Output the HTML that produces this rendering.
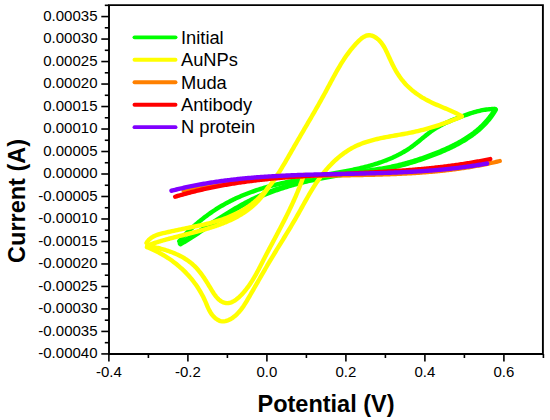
<!DOCTYPE html>
<html><head><meta charset="utf-8"><style>
html,body{margin:0;padding:0;background:#fff;width:550px;height:420px;overflow:hidden}
svg{display:block}
text{font-family:"Liberation Sans",sans-serif}
</style></head><body>
<svg width="550" height="420" viewBox="0 0 550 420"><rect width="550" height="420" fill="#fff"/><g><path d="M179.28 241.25L180.16 240.22L181.05 239.19L181.96 238.17L182.87 237.15L183.80 236.14L184.74 235.14L185.69 234.14L186.65 233.15L187.62 232.16L188.61 231.18L189.60 230.21L190.61 229.24L191.62 228.29L192.65 227.33L193.68 226.39L194.73 225.45L195.78 224.52L196.84 223.60L197.92 222.68L199.00 221.77L200.09 220.87L201.19 219.98L202.29 219.10L203.41 218.22L204.53 217.36L205.66 216.50L206.80 215.65L207.95 214.81L209.10 213.99L210.26 213.16L211.43 212.35L212.60 211.55L213.78 210.76L214.97 209.98L216.16 209.21L217.36 208.45L218.57 207.70L219.78 206.96L220.99 206.23L222.21 205.51L223.44 204.80L224.67 204.11L225.90 203.42L227.14 202.75L228.38 202.09L229.63 201.44L230.88 200.80L232.14 200.17L233.40 199.56L234.66 198.95L235.92 198.36L237.19 197.77L238.47 197.20L239.74 196.64L241.03 196.09L242.31 195.55L243.60 195.02L244.89 194.49L246.18 193.98L247.48 193.48L248.78 192.98L250.08 192.50L251.39 192.02L252.70 191.56L254.01 191.10L255.33 190.65L256.64 190.21L257.96 189.77L259.29 189.35L260.61 188.93L261.94 188.52L263.27 188.12L264.61 187.72L265.95 187.33L267.28 186.95L268.63 186.58L269.97 186.21L271.31 185.85L272.66 185.49L274.01 185.14L275.36 184.80L276.72 184.46L278.07 184.13L279.43 183.80L280.79 183.48L282.15 183.16L283.52 182.85L284.88 182.54L286.25 182.24L287.62 181.94L288.99 181.65L290.36 181.36L291.73 181.07L293.10 180.79L294.48 180.51L295.86 180.23L297.23 179.96L298.61 179.69L299.99 179.43L301.37 179.16L302.75 178.90L304.14 178.64L305.52 178.39L306.90 178.13L308.29 177.88L309.68 177.63L311.06 177.38L312.45 177.13L313.84 176.89L315.22 176.64L316.61 176.40L318.00 176.15L319.39 175.91L320.78 175.67L322.17 175.42L323.56 175.18L324.95 174.94L326.34 174.69L327.73 174.45L329.12 174.21L330.51 173.96L331.90 173.72L333.29 173.47L334.68 173.22L336.06 172.97L337.45 172.72L338.84 172.47L340.23 172.21L341.61 171.95L343.00 171.69L344.38 171.43L345.77 171.17L347.15 170.90L348.53 170.62L349.91 170.35L351.29 170.07L352.67 169.78L354.04 169.49L355.42 169.20L356.79 168.90L358.16 168.59L359.52 168.28L360.89 167.96L362.25 167.63L363.61 167.30L364.96 166.96L366.32 166.62L367.67 166.26L369.01 165.90L370.35 165.53L371.69 165.15L373.03 164.76L374.36 164.36L375.69 163.96L377.01 163.54L378.33 163.11L379.64 162.67L380.95 162.22L382.26 161.76L383.56 161.29L384.86 160.81L386.15 160.32L387.43 159.81L388.71 159.29L389.98 158.76L391.25 158.21L392.52 157.65L393.77 157.08L395.02 156.50L396.27 155.89L397.51 155.28L398.74 154.65L399.96 154.00L401.18 153.34L402.39 152.66L403.60 151.97L404.79 151.26L405.98 150.54L407.16 149.79L408.34 149.03L409.51 148.26L410.66 147.46L411.82 146.65L412.96 145.81L414.09 144.96L415.22 144.09L416.34 143.21L417.46 142.32L418.57 141.42L419.68 140.51L420.79 139.60L421.90 138.68L423.01 137.77L424.11 136.86L425.23 135.95L426.34 135.05L427.46 134.16L428.59 133.29L429.73 132.43L430.87 131.58L432.02 130.76L433.18 129.95L434.35 129.18L435.54 128.42L436.73 127.69L437.94 126.98L439.16 126.29L440.38 125.62L441.62 124.97L442.86 124.34L444.11 123.73L445.37 123.13L446.64 122.54L447.91 121.97L449.19 121.41L450.48 120.86L451.77 120.32L453.07 119.79L454.37 119.27L455.68 118.76L456.99 118.25L458.30 117.74L459.62 117.24L460.94 116.75L462.26 116.25L463.59 115.76L464.91 115.28L466.24 114.81L467.58 114.34L468.91 113.89L470.25 113.44L471.59 113.01L472.93 112.60L474.28 112.19L475.62 111.81L476.97 111.45L478.33 111.10L479.68 110.78L481.04 110.47L482.40 110.19L483.76 109.94L485.13 109.71L486.50 109.51L487.87 109.34L489.24 109.20L490.62 109.09L492.00 109.02L493.38 108.98L494.76 108.97" fill="none" stroke="#00ff00" stroke-width="4.40" stroke-linecap="round" stroke-linejoin="round"/><path d="M495.28 109.67L494.55 110.90L493.80 112.11L493.03 113.30L492.24 114.47L491.42 115.62L490.60 116.75L489.75 117.86L488.88 118.95L488.00 120.03L487.09 121.09L486.17 122.13L485.24 123.15L484.29 124.15L483.32 125.14L482.33 126.11L481.33 127.07L480.32 128.01L479.29 128.93L478.24 129.84L477.18 130.73L476.11 131.61L475.02 132.47L473.93 133.32L472.81 134.15L471.69 134.97L470.56 135.78L469.41 136.57L468.25 137.35L467.08 138.11L465.90 138.87L464.71 139.61L463.51 140.33L462.31 141.05L461.09 141.75L459.86 142.45L458.63 143.13L457.39 143.80L456.14 144.46L454.88 145.11L453.61 145.75L452.34 146.38L451.07 147.00L449.78 147.61L448.50 148.21L447.20 148.80L445.91 149.39L444.60 149.96L443.30 150.53L441.99 151.09L440.67 151.64L439.36 152.19L438.04 152.72L436.72 153.25L435.40 153.78L434.07 154.30L432.75 154.81L431.42 155.31L430.09 155.81L428.76 156.31L427.44 156.80L426.10 157.28L424.77 157.75L423.44 158.22L422.11 158.68L420.77 159.14L419.44 159.58L418.10 160.03L416.76 160.46L415.42 160.89L414.08 161.31L412.74 161.72L411.39 162.13L410.05 162.53L408.70 162.92L407.35 163.30L406.00 163.68L404.65 164.04L403.30 164.40L401.95 164.76L400.59 165.10L399.24 165.44L397.88 165.77L396.52 166.09L395.16 166.40L393.80 166.70L392.43 166.99L391.07 167.28L389.70 167.56L388.33 167.83L386.96 168.09L385.59 168.34L384.21 168.58L382.83 168.81L381.46 169.04L380.08 169.26L378.70 169.47L377.32 169.68L375.93 169.88L374.55 170.08L373.16 170.27L371.78 170.46L370.39 170.64L369.00 170.82L367.61 171.00L366.22 171.18L364.83 171.35L363.44 171.53L362.05 171.70L360.65 171.87L359.26 172.05L357.87 172.22L356.47 172.40L355.08 172.57L353.68 172.76L352.29 172.94L350.89 173.13L349.50 173.31L348.10 173.51L346.71 173.70L345.31 173.90L343.92 174.10L342.52 174.31L341.13 174.51L339.73 174.73L338.34 174.94L336.95 175.16L335.56 175.38L334.16 175.61L332.77 175.84L331.38 176.07L329.99 176.31L328.60 176.56L327.21 176.80L325.82 177.05L324.44 177.31L323.05 177.57L321.67 177.83L320.28 178.10L318.90 178.37L317.52 178.65L316.14 178.94L314.76 179.22L313.38 179.52L312.00 179.81L310.63 180.12L309.25 180.43L307.88 180.74L306.51 181.06L305.14 181.38L303.77 181.71L302.41 182.05L301.04 182.39L299.68 182.74L298.32 183.09L296.96 183.45L295.60 183.82L294.25 184.19L292.90 184.57L291.55 184.95L290.20 185.34L288.85 185.74L287.51 186.14L286.17 186.55L284.83 186.97L283.50 187.39L282.16 187.82L280.83 188.26L279.50 188.70L278.18 189.16L276.85 189.61L275.53 190.08L274.22 190.55L272.90 191.03L271.59 191.52L270.28 192.02L268.98 192.52L267.67 193.03L266.38 193.55L265.08 194.08L263.79 194.61L262.50 195.16L261.21 195.71L259.93 196.27L258.65 196.83L257.37 197.41L256.10 197.99L254.83 198.59L253.57 199.19L252.31 199.80L251.05 200.42L249.80 201.05L248.55 201.68L247.30 202.33L246.06 202.98L244.82 203.64L243.58 204.30L242.34 204.97L241.11 205.65L239.89 206.34L238.66 207.03L237.44 207.73L236.22 208.44L235.00 209.15L233.79 209.86L232.58 210.58L231.37 211.31L230.16 212.04L228.96 212.77L227.75 213.51L226.55 214.25L225.36 215.00L224.16 215.75L222.96 216.50L221.77 217.26L220.58 218.02L219.39 218.78L218.20 219.54L217.01 220.30L215.83 221.07L214.64 221.84L213.46 222.61L212.28 223.38L211.10 224.15L209.91 224.92L208.73 225.70L207.56 226.47L206.38 227.24L205.20 228.01L204.02 228.78L202.85 229.56L201.67 230.32L200.49 231.09L199.32 231.86L198.14 232.62L196.96 233.39L195.79 234.15L194.61 234.91L193.43 235.66L192.26 236.41L191.08 237.16L189.90 237.91L188.72 238.65L187.54 239.39L186.36 240.12L185.18 240.85L184.00 241.58L182.81 242.30L181.63 243.01L180.44 243.72" fill="none" stroke="#00ff00" stroke-width="5.40" stroke-linecap="round" stroke-linejoin="round"/><path d="M303.96 174.87L303.63 175.85L303.29 176.83L302.95 177.81L302.61 178.79L302.26 179.77L301.91 180.74L301.56 181.71L301.20 182.68L300.83 183.65L300.47 184.62L300.10 185.58L299.72 186.54L299.35 187.50L298.96 188.46L298.58 189.42L298.19 190.37L297.80 191.33L297.41 192.28L297.01 193.23L296.61 194.18L296.20 195.13L295.80 196.07L295.39 197.01L294.97 197.96L294.56 198.90L294.14 199.84L293.72 200.77L293.29 201.71L292.87 202.65L292.44 203.58L292.01 204.51L291.57 205.44L291.14 206.38L290.70 207.30L290.26 208.23L289.81 209.16L289.37 210.08L288.92 211.01L288.47 211.93L288.02 212.86L287.57 213.78L287.11 214.70L286.65 215.62L286.20 216.54L285.74 217.46L285.27 218.37L284.81 219.29L284.35 220.21L283.88 221.12L283.41 222.04L282.94 222.95L282.47 223.86L282.00 224.78L281.53 225.69L281.06 226.60L280.58 227.51L280.11 228.42L279.63 229.33L279.15 230.24L278.67 231.15L278.20 232.06L277.72 232.97L277.24 233.88L276.76 234.79L276.28 235.69L275.79 236.60L275.31 237.51L274.83 238.42L274.35 239.33L273.87 240.23L273.38 241.14L272.90 242.05L272.42 242.96L271.94 243.86L271.46 244.77L270.97 245.68L270.49 246.59L270.01 247.50L269.53 248.40L269.05 249.31L268.57 250.22L268.09 251.13L267.61 252.04L267.13 252.95L266.66 253.86L266.18 254.77L265.71 255.68L265.23 256.60L264.76 257.51L264.29 258.42L263.81 259.34L263.34 260.25L262.87 261.17L262.41 262.08L261.94 263.00L261.47 263.91L261.00 264.83L260.53 265.74L260.06 266.66L259.58 267.57L259.11 268.48L258.63 269.40L258.15 270.31L257.66 271.21L257.18 272.12L256.68 273.03L256.19 273.93L255.68 274.83L255.17 275.73L254.66 276.62L254.14 277.52L253.61 278.41L253.08 279.29L252.54 280.17L251.99 281.05L251.43 281.93L250.86 282.80L250.28 283.67L249.70 284.53L249.10 285.39L248.50 286.24L247.88 287.09L247.25 287.93L246.61 288.77L245.96 289.60L245.29 290.43L244.61 291.25L243.92 292.06L243.22 292.87L242.50 293.67L241.76 294.46L241.02 295.24L240.25 296.01L239.48 296.76L238.70 297.48L237.90 298.18L237.10 298.85L236.28 299.48L235.46 300.08L234.63 300.63L233.79 301.14L232.94 301.60L232.09 302.00L231.23 302.35L230.37 302.63L229.51 302.85L228.64 303.00L227.77 303.08L226.90 303.08L226.03 303.00L225.16 302.86L224.30 302.64L223.45 302.36L222.61 302.01L221.79 301.59L220.98 301.12L220.19 300.58L219.42 299.99L218.68 299.34L217.95 298.65L217.24 297.91L216.55 297.13L215.88 296.31L215.22 295.46L214.57 294.58L213.94 293.68L213.32 292.75L212.71 291.81L212.11 290.85L211.51 289.89L210.92 288.92L210.34 287.95L209.76 286.98L209.19 286.02L208.61 285.08L208.04 284.14L207.47 283.21L206.90 282.29L206.33 281.38L205.76 280.48L205.18 279.59L204.61 278.71L204.03 277.85L203.45 276.99L202.86 276.15L202.27 275.31L201.68 274.49L201.07 273.67L200.46 272.87L199.85 272.08L199.22 271.30L198.59 270.54L197.95 269.78L197.30 269.04L196.64 268.30L195.97 267.58L195.29 266.87L194.59 266.18L193.88 265.49L193.16 264.82L192.43 264.16L191.68 263.51L190.91 262.88L190.13 262.25L189.33 261.64L188.52 261.05L187.70 260.46L186.86 259.89L186.01 259.33L185.15 258.78L184.28 258.24L183.39 257.72L182.49 257.21L181.58 256.70L180.67 256.21L179.74 255.74L178.80 255.27L177.86 254.82L176.91 254.37L175.95 253.94L174.98 253.52L174.01 253.11L173.03 252.71L172.05 252.32L171.06 251.95L170.07 251.58L169.07 251.23L168.08 250.88L167.07 250.55L166.07 250.22L165.06 249.91L164.06 249.61L163.05 249.32L162.04 249.04L161.03 248.76L160.03 248.50L159.02 248.25L158.02 248.01L157.02 247.78L156.02 247.55L155.03 247.34L154.04 247.14L153.05 246.94L152.07 246.76L151.10 246.59L150.13 246.42L149.17 246.26L148.21 246.12L147.27 245.98" fill="none" stroke="#ffff00" stroke-width="4.40" stroke-linecap="round" stroke-linejoin="round"/><path d="M147.95 245.32L148.44 245.13L148.94 244.95L149.43 244.77L149.93 244.59L150.42 244.42L150.92 244.24L151.42 244.07L151.92 243.89L152.43 243.72L152.93 243.55L153.43 243.38L153.94 243.21L154.45 243.04L154.96 242.88L155.47 242.71L155.98 242.55L156.49 242.39L157.00 242.22L157.51 242.06L158.03 241.90L158.54 241.75L159.06 241.59L159.58 241.43L160.10 241.28L160.62 241.12L161.14 240.97L161.66 240.81L162.18 240.66L162.70 240.51L163.23 240.36L163.75 240.21L164.28 240.06L164.81 239.91L165.33 239.76L165.86 239.62L166.39 239.47L166.92 239.33L167.45 239.18L167.98 239.04L168.52 238.89L169.05 238.75L169.58 238.61L170.12 238.46L170.65 238.32L171.19 238.18L171.72 238.04L172.26 237.90L172.79 237.76L173.33 237.62L173.87 237.48L174.41 237.34L174.95 237.20L175.49 237.06L176.03 236.93L176.57 236.79L177.11 236.65L177.65 236.51L178.19 236.38L178.73 236.24L179.28 236.10L179.82 235.97L180.36 235.83L180.90 235.69L181.45 235.55L181.99 235.42L182.54 235.28L183.08 235.14L183.62 235.01L184.17 234.87L184.71 234.73L185.26 234.60L185.80 234.46L186.35 234.32L186.90 234.19L187.44 234.05L187.99 233.91L188.53 233.77L189.08 233.63L189.62 233.49L190.17 233.35L190.72 233.22L191.26 233.08L191.81 232.94L192.35 232.79L192.90 232.65L193.44 232.51L193.99 232.37L194.53 232.23L195.08 232.08L195.62 231.94L196.17 231.80L196.71 231.65L197.26 231.51L197.80 231.36L198.35 231.21L198.89 231.07L199.43 230.92L199.98 230.77L200.52 230.62L201.06 230.47L201.60 230.32L202.14 230.17L202.69 230.02L203.23 229.86L203.77 229.71L204.31 229.55L204.85 229.40L205.39 229.24L205.92 229.08L206.46 228.92L207.00 228.76L207.54 228.60L208.07 228.44L208.61 228.28L209.14 228.11L209.68 227.95L210.21 227.78L210.75 227.61L211.28 227.44L211.81 227.27L212.34 227.10L212.87 226.93L213.40 226.76L213.93 226.58L214.46 226.40L214.99 226.23L215.51 226.05L216.04 225.87L216.57 225.68L217.09 225.50L217.61 225.32L218.14 225.13L218.66 224.94L219.18 224.75L219.70 224.56L220.22 224.37L220.73 224.17L221.25 223.98L221.77 223.78L222.28 223.58L222.80 223.38L223.31 223.18L223.82 222.98L224.33 222.77L224.84 222.56L225.35 222.35L225.85 222.14L226.36 221.93L226.87 221.71L227.37 221.50L227.87 221.28L228.37 221.06L228.87 220.83L229.37 220.61L229.87 220.38L230.36 220.15L230.86 219.92L231.35 219.69L231.84 219.46L232.33 219.22L232.82 218.98L233.31 218.74L233.80 218.50L234.28 218.25L234.77 218.00L235.25 217.75L235.73 217.50L236.21 217.25L236.69 216.99L237.16 216.73L237.64 216.47L238.11 216.21L238.58 215.94L239.05 215.67L239.52 215.40L239.98 215.13L240.45 214.85L240.91 214.57L241.37 214.29L241.83 214.01L242.29 213.72L242.75 213.43L243.20 213.14L243.65 212.85L244.10 212.55L244.55 212.25L245.00 211.95L245.45 211.64L245.89 211.34L246.33 211.03L246.77 210.71L247.21 210.40L247.64 210.08L248.08 209.76L248.51 209.43L248.94 209.10L249.37 208.77L249.79 208.44L250.22 208.10L250.64 207.76L251.06 207.42L251.47 207.08L251.89 206.73L252.30 206.38L252.71 206.02L253.12 205.66L253.53 205.30L253.93 204.94L254.34 204.57L254.74 204.20L255.13 203.83L255.53 203.45L255.92 203.07L256.31 202.69L256.70 202.30L257.09 201.91L257.47 201.52L257.85 201.12L258.23 200.72L258.61 200.31L258.98 199.91L259.36 199.50L259.73 199.08L260.09 198.66L260.46 198.24L260.82 197.82L261.18 197.39L261.54 196.96L261.89 196.52L262.24 196.08L262.59 195.64L262.94 195.19L263.28 194.74L263.62 194.29L263.96 193.83L264.30 193.37L264.63 192.90L264.96 192.43L265.29 191.96L265.61 191.48L265.94 191.00L266.26 190.51L266.57 190.02L266.89 189.53L267.20 189.03L267.50 188.53L267.81 188.03L268.11 187.52L268.41 187.00" fill="none" stroke="#ffff00" stroke-width="4.40" stroke-linecap="round" stroke-linejoin="round"/><path d="M146.52 242.89L147.58 241.35L148.76 239.98L150.05 238.78L151.44 237.73L152.92 236.81L154.48 236.01L156.11 235.30L157.79 234.69L159.51 234.15L161.27 233.66L163.05 233.21L164.85 232.79L166.65 232.38L168.45 231.98L170.24 231.58L172.03 231.19L173.83 230.81L175.61 230.42L177.40 230.05L179.19 229.67L180.97 229.30L182.74 228.93L184.52 228.57L186.29 228.21L188.06 227.85L189.82 227.49L191.58 227.13L193.34 226.77L195.09 226.41L196.84 226.05L198.59 225.69L200.33 225.32L202.07 224.94L203.81 224.55L205.55 224.15L207.28 223.74L209.01 223.32L210.74 222.88L212.47 222.42L214.20 221.94L215.93 221.45L217.66 220.93L219.39 220.38L221.12 219.82L222.85 219.22L224.57 218.60L226.29 217.96L228.01 217.28L229.71 216.59L231.41 215.86L233.10 215.11L234.78 214.33L236.44 213.52L238.08 212.69L239.71 211.83L241.33 210.94L242.92 210.03L244.49 209.08L246.03 208.11L247.55 207.11L249.05 206.08L250.51 205.02L251.95 203.94L253.36 202.83L254.74 201.68L256.09 200.52L257.41 199.33L258.72 198.11L259.99 196.87L261.24 195.60L262.47 194.32L263.68 193.01L264.87 191.68L266.03 190.34L267.17 188.97L268.30 187.58L269.41 186.18L270.50 184.76L271.57 183.33L272.63 181.88L273.67 180.41L274.69 178.94L275.71 177.45L276.71 175.94L277.70 174.43L278.68 172.91L279.65 171.38L280.60 169.83L281.55 168.28L282.49 166.73L283.43 165.17L284.36 163.60L285.28 162.03L286.20 160.45L287.11 158.87L288.02 157.29L288.93 155.70L289.84 154.12L290.74 152.54L291.65 150.95L292.56 149.37L293.47 147.79L294.38 146.22L295.29 144.64L296.20 143.07L297.11 141.50L298.02 139.93L298.94 138.36L299.85 136.79L300.77 135.23L301.68 133.66L302.60 132.10L303.51 130.54L304.42 128.98L305.34 127.41L306.25 125.85L307.16 124.29L308.07 122.73L308.98 121.17L309.89 119.61L310.79 118.05L311.70 116.49L312.60 114.92L313.51 113.36L314.41 111.80L315.30 110.23L316.20 108.67L317.09 107.10L317.98 105.54L318.87 103.97L319.75 102.40L320.64 100.82L321.51 99.25L322.39 97.68L323.26 96.10L324.13 94.52L325.00 92.94L325.86 91.35L326.71 89.76L327.57 88.17L328.42 86.58L329.27 84.99L330.11 83.40L330.96 81.80L331.81 80.21L332.67 78.62L333.53 77.03L334.39 75.44L335.26 73.86L336.14 72.28L337.03 70.70L337.93 69.13L338.84 67.57L339.76 66.01L340.70 64.46L341.65 62.91L342.62 61.37L343.60 59.85L344.61 58.33L345.63 56.82L346.67 55.32L347.74 53.84L348.83 52.36L349.95 50.90L351.09 49.46L352.25 48.02L353.45 46.60L354.67 45.20L355.93 43.81L357.21 42.43L358.53 41.09L359.88 39.81L361.27 38.62L362.69 37.56L364.14 36.66L365.62 35.95L367.14 35.46L368.69 35.23L370.27 35.29L371.88 35.66L373.48 36.28L375.05 37.11L376.56 38.12L377.97 39.25L379.29 40.48L380.51 41.81L381.64 43.21L382.70 44.69L383.69 46.23L384.62 47.83L385.50 49.47L386.34 51.14L387.15 52.84L387.94 54.56L388.71 56.28L389.47 58.00L390.24 59.71L391.02 61.39L391.81 63.06L392.62 64.71L393.44 66.33L394.29 67.93L395.15 69.50L396.04 71.06L396.96 72.59L397.90 74.09L398.87 75.57L399.87 77.03L400.91 78.45L401.98 79.86L403.09 81.23L404.23 82.58L405.42 83.91L406.65 85.20L407.93 86.47L409.23 87.71L410.58 88.92L411.96 90.10L413.37 91.25L414.81 92.37L416.28 93.46L417.77 94.52L419.29 95.55L420.83 96.55L422.38 97.52L423.96 98.46L425.54 99.36L427.15 100.23L428.76 101.07L430.38 101.88L432.01 102.66L433.65 103.42L435.29 104.17L436.94 104.89L438.60 105.60L440.25 106.31L441.91 107.00L443.57 107.70L445.23 108.39L446.89 109.09L448.55 109.79L450.20 110.51L451.85 111.23L453.50 111.98L455.14 112.74L456.77 113.53L458.39 114.35L460.00 115.19L461.60 116.07" fill="none" stroke="#ffff00" stroke-width="4.40" stroke-linecap="round" stroke-linejoin="round"/><path d="M461.72 116.57L460.05 117.26L458.37 117.94L456.70 118.62L455.03 119.28L453.36 119.93L451.69 120.57L450.02 121.20L448.35 121.82L446.67 122.43L445.00 123.03L443.32 123.61L441.64 124.19L439.96 124.75L438.28 125.30L436.60 125.85L434.91 126.38L433.22 126.90L431.52 127.40L429.83 127.90L428.12 128.38L426.42 128.86L424.71 129.32L423.00 129.77L421.28 130.21L419.55 130.64L417.83 131.05L416.09 131.46L414.35 131.85L412.61 132.23L410.86 132.60L409.10 132.95L407.33 133.30L405.57 133.64L403.79 133.96L402.01 134.28L400.23 134.60L398.45 134.91L396.67 135.23L394.88 135.54L393.10 135.85L391.31 136.17L389.53 136.49L387.75 136.81L385.97 137.15L384.20 137.49L382.43 137.85L380.67 138.22L378.91 138.60L377.16 139.00L375.42 139.41L373.68 139.84L371.96 140.30L370.24 140.78L368.54 141.28L366.85 141.80L365.17 142.35L363.51 142.94L361.85 143.55L360.22 144.19L358.60 144.87L356.99 145.58L355.40 146.32L353.83 147.11L352.28 147.93L350.75 148.79L349.23 149.69L347.74 150.63L346.26 151.59L344.80 152.59L343.36 153.63L341.94 154.69L340.54 155.79L339.16 156.91L337.79 158.06L336.45 159.24L335.13 160.44L333.82 161.67L332.54 162.92L331.28 164.20L330.03 165.49L328.81 166.81L327.60 168.15L326.42 169.50L325.25 170.87L324.11 172.26L322.99 173.67L321.89 175.08L320.80 176.51L319.74 177.96L318.70 179.41L317.68 180.88L316.68 182.35L315.69 183.83L314.72 185.33L313.77 186.83L312.83 188.34L311.90 189.85L310.98 191.38L310.07 192.91L309.17 194.44L308.28 195.98L307.40 197.53L306.52 199.07L305.65 200.63L304.78 202.18L303.92 203.74L303.05 205.30L302.19 206.86L301.32 208.42L300.46 209.98L299.59 211.53L298.71 213.09L297.84 214.65L296.95 216.20L296.06 217.76L295.16 219.31L294.26 220.85L293.35 222.40L292.44 223.94L291.53 225.49L290.61 227.03L289.68 228.56L288.76 230.10L287.83 231.64L286.89 233.17L285.96 234.70L285.02 236.23L284.09 237.76L283.15 239.29L282.21 240.82L281.27 242.35L280.33 243.88L279.40 245.40L278.46 246.93L277.52 248.45L276.59 249.97L275.66 251.50L274.73 253.02L273.80 254.54L272.88 256.07L271.96 257.59L271.05 259.11L270.14 260.64L269.23 262.16L268.33 263.69L267.43 265.21L266.54 266.74L265.65 268.26L264.76 269.79L263.87 271.32L262.99 272.85L262.10 274.38L261.22 275.91L260.34 277.45L259.46 278.98L258.57 280.52L257.69 282.06L256.80 283.61L255.92 285.15L255.03 286.70L254.14 288.25L253.24 289.81L252.34 291.36L251.44 292.92L250.54 294.49L249.63 296.06L248.71 297.63L247.79 299.20L246.86 300.77L245.91 302.33L244.95 303.88L243.96 305.41L242.94 306.91L241.89 308.38L240.80 309.81L239.67 311.21L238.49 312.55L237.27 313.84L235.98 315.08L234.64 316.25L233.24 317.34L231.77 318.37L230.24 319.29L228.67 320.08L227.06 320.72L225.44 321.17L223.81 321.40L222.20 321.39L220.60 321.11L219.04 320.56L217.53 319.78L216.08 318.79L214.70 317.62L213.39 316.30L212.18 314.86L211.06 313.34L210.06 311.75L209.17 310.12L208.36 308.47L207.61 306.79L206.89 305.11L206.19 303.43L205.48 301.75L204.74 300.10L203.97 298.46L203.17 296.85L202.34 295.25L201.49 293.67L200.61 292.11L199.70 290.57L198.76 289.05L197.80 287.55L196.81 286.07L195.79 284.61L194.75 283.17L193.69 281.75L192.60 280.35L191.48 278.97L190.34 277.62L189.18 276.28L188.00 274.96L186.79 273.67L185.56 272.39L184.31 271.14L183.03 269.91L181.74 268.70L180.42 267.51L179.09 266.35L177.73 265.20L176.35 264.08L174.96 262.98L173.55 261.91L172.11 260.85L170.66 259.82L169.19 258.81L167.71 257.82L166.20 256.86L164.68 255.92L163.14 255.00L161.59 254.11L160.02 253.24L158.44 252.39L156.84 251.57L155.23 250.77L153.60 249.99L151.96 249.24L150.31 248.52L148.64 247.81L146.96 247.14" fill="none" stroke="#ffff00" stroke-width="4.40" stroke-linecap="round" stroke-linejoin="round"/><path d="M183.53 190.68L184.78 190.36L186.03 190.05L187.28 189.74L188.53 189.43L189.78 189.14L191.03 188.84L192.29 188.55L193.54 188.27L194.79 187.99L196.04 187.71L197.30 187.44L198.55 187.17L199.81 186.91L201.06 186.65L202.32 186.39L203.57 186.14L204.83 185.89L206.09 185.65L207.35 185.41L208.60 185.18L209.86 184.95L211.12 184.72L212.38 184.50L213.64 184.28L214.90 184.06L216.16 183.85L217.42 183.65L218.68 183.44L219.95 183.24L221.21 183.05L222.47 182.85L223.73 182.66L225.00 182.48L226.26 182.30L227.52 182.12L228.79 181.94L230.05 181.77L231.32 181.60L232.58 181.43L233.85 181.27L235.12 181.11L236.38 180.96L237.65 180.80L238.92 180.66L240.19 180.51L241.45 180.37L242.72 180.23L243.99 180.09L245.26 179.95L246.53 179.82L247.80 179.69L249.07 179.57L250.34 179.44L251.61 179.32L252.88 179.20L254.15 179.09L255.42 178.98L256.70 178.87L257.97 178.76L259.24 178.66L260.51 178.55L261.79 178.45L263.06 178.36L264.33 178.26L265.61 178.17L266.88 178.08L268.15 177.99L269.43 177.90L270.70 177.82L271.98 177.74L273.25 177.66L274.53 177.58L275.80 177.50L277.08 177.43L278.36 177.36L279.63 177.29L280.91 177.22L282.18 177.15L283.46 177.09L284.74 177.03L286.02 176.97L287.29 176.91L288.57 176.85L289.85 176.79L291.13 176.74L292.40 176.69L293.68 176.64L294.96 176.59L296.24 176.54L297.52 176.49L298.80 176.44L300.07 176.40L301.35 176.36L302.63 176.31L303.91 176.27L305.19 176.23L306.47 176.20L307.75 176.16L309.03 176.12L310.31 176.09L311.59 176.05L312.87 176.02L314.15 175.99L315.43 175.96L316.71 175.93L317.99 175.90L319.27 175.87L320.55 175.84L321.83 175.81L323.11 175.78L324.40 175.76L325.68 175.73L326.96 175.70L328.24 175.68L329.52 175.65L330.80 175.63L332.08 175.61L333.36 175.58L334.64 175.56L335.92 175.54L337.21 175.51L338.49 175.49L339.77 175.47L341.05 175.45L342.33 175.42L343.61 175.40L344.89 175.38L346.17 175.36L347.45 175.34L348.74 175.31L350.02 175.29L351.30 175.27L352.58 175.24L353.86 175.22L355.14 175.20L356.42 175.17L357.70 175.15L358.98 175.12L360.26 175.10L361.55 175.07L362.83 175.05L364.11 175.02L365.39 174.99L366.67 174.97L367.95 174.94L369.23 174.91L370.51 174.88L371.79 174.85L373.07 174.81L374.35 174.78L375.63 174.75L376.91 174.71L378.19 174.68L379.47 174.64L380.75 174.60L382.02 174.56L383.30 174.52L384.58 174.48L385.86 174.44L387.14 174.40L388.42 174.35L389.70 174.31L390.97 174.26L392.25 174.21L393.53 174.16L394.81 174.11L396.08 174.06L397.36 174.00L398.64 173.95L399.92 173.89L401.19 173.83L402.47 173.77L403.75 173.70L405.02 173.64L406.30 173.57L407.57 173.50L408.85 173.43L410.12 173.36L411.40 173.29L412.67 173.21L413.95 173.13L415.22 173.05L416.50 172.97L417.77 172.88L419.04 172.80L420.32 172.71L421.59 172.62L422.86 172.52L424.13 172.43L425.41 172.33L426.68 172.23L427.95 172.13L429.22 172.02L430.49 171.91L431.76 171.80L433.03 171.69L434.30 171.57L435.57 171.45L436.84 171.33L438.11 171.21L439.38 171.08L440.65 170.95L441.92 170.82L443.19 170.68L444.45 170.55L445.72 170.41L446.99 170.26L448.25 170.11L449.52 169.96L450.79 169.81L452.05 169.65L453.32 169.49L454.58 169.33L455.84 169.16L457.11 168.99L458.37 168.82L459.64 168.64L460.90 168.46L462.16 168.28L463.42 168.09L464.68 167.90L465.95 167.71L467.21 167.51L468.47 167.31L469.73 167.11L470.99 166.90L472.24 166.69L473.50 166.47L474.76 166.25L476.02 166.03L477.28 165.80L478.53 165.57L479.79 165.33L481.05 165.09L482.30 164.85L483.56 164.60L484.81 164.35L486.06 164.09L487.32 163.83L488.57 163.57L489.82 163.30L491.08 163.02L492.33 162.75L493.58 162.46L494.83 162.18L496.08 161.89L497.33 161.59L498.58 161.29L499.83 160.99" fill="none" stroke="#ff8000" stroke-width="4.20" stroke-linecap="round" stroke-linejoin="round"/><path d="M175.17 196.73L176.41 196.35L177.64 195.98L178.88 195.62L180.11 195.26L181.35 194.90L182.59 194.55L183.82 194.20L185.06 193.85L186.30 193.52L187.54 193.18L188.78 192.85L190.02 192.52L191.26 192.20L192.51 191.88L193.75 191.57L194.99 191.26L196.23 190.95L197.48 190.65L198.72 190.35L199.97 190.05L201.21 189.76L202.46 189.48L203.70 189.19L204.95 188.92L206.20 188.64L207.45 188.37L208.70 188.10L209.94 187.84L211.19 187.58L212.44 187.32L213.69 187.06L214.95 186.81L216.20 186.57L217.45 186.32L218.70 186.09L219.95 185.85L221.21 185.62L222.46 185.39L223.72 185.16L224.97 184.94L226.23 184.72L227.48 184.50L228.74 184.29L229.99 184.08L231.25 183.87L232.51 183.67L233.76 183.46L235.02 183.27L236.28 183.07L237.54 182.88L238.80 182.69L240.06 182.50L241.32 182.32L242.58 182.14L243.84 181.96L245.10 181.79L246.36 181.61L247.62 181.44L248.89 181.28L250.15 181.11L251.41 180.95L252.68 180.79L253.94 180.63L255.20 180.48L256.47 180.33L257.73 180.18L259.00 180.03L260.26 179.88L261.53 179.74L262.79 179.60L264.06 179.46L265.33 179.33L266.59 179.19L267.86 179.06L269.13 178.93L270.40 178.80L271.66 178.68L272.93 178.55L274.20 178.43L275.47 178.31L276.74 178.20L278.01 178.08L279.28 177.97L280.55 177.85L281.82 177.74L283.09 177.63L284.36 177.53L285.63 177.42L286.90 177.32L288.17 177.22L289.44 177.12L290.71 177.02L291.99 176.92L293.26 176.82L294.53 176.73L295.80 176.64L297.07 176.55L298.35 176.46L299.62 176.37L300.89 176.28L302.17 176.19L303.44 176.11L304.72 176.02L305.99 175.94L307.26 175.86L308.54 175.78L309.81 175.70L311.09 175.62L312.36 175.54L313.64 175.47L314.91 175.39L316.19 175.32L317.46 175.24L318.74 175.17L320.01 175.10L321.29 175.03L322.56 174.95L323.84 174.88L325.12 174.81L326.39 174.75L327.67 174.68L328.94 174.61L330.22 174.54L331.50 174.48L332.77 174.41L334.05 174.34L335.33 174.28L336.60 174.21L337.88 174.15L339.16 174.08L340.43 174.02L341.71 173.96L342.99 173.89L344.26 173.83L345.54 173.77L346.82 173.70L348.09 173.64L349.37 173.58L350.65 173.51L351.93 173.45L353.20 173.39L354.48 173.32L355.76 173.26L357.03 173.20L358.31 173.13L359.59 173.07L360.87 173.00L362.14 172.94L363.42 172.87L364.70 172.81L365.97 172.74L367.25 172.68L368.53 172.61L369.80 172.54L371.08 172.47L372.36 172.41L373.63 172.34L374.91 172.27L376.19 172.20L377.46 172.13L378.74 172.05L380.02 171.98L381.29 171.91L382.57 171.83L383.84 171.76L385.12 171.68L386.39 171.61L387.67 171.53L388.95 171.45L390.22 171.37L391.50 171.29L392.77 171.21L394.05 171.13L395.32 171.04L396.60 170.96L397.87 170.87L399.15 170.78L400.42 170.69L401.69 170.60L402.97 170.51L404.24 170.42L405.51 170.32L406.79 170.23L408.06 170.13L409.33 170.03L410.61 169.93L411.88 169.83L413.15 169.72L414.42 169.62L415.70 169.51L416.97 169.40L418.24 169.29L419.51 169.18L420.78 169.07L422.05 168.95L423.33 168.83L424.60 168.71L425.87 168.59L427.14 168.47L428.41 168.34L429.68 168.21L430.94 168.08L432.21 167.95L433.48 167.82L434.75 167.68L436.02 167.54L437.29 167.40L438.55 167.26L439.82 167.11L441.09 166.97L442.36 166.82L443.62 166.66L444.89 166.51L446.15 166.35L447.42 166.19L448.69 166.03L449.95 165.87L451.21 165.70L452.48 165.53L453.74 165.35L455.01 165.18L456.27 165.00L457.53 164.82L458.80 164.64L460.06 164.45L461.32 164.26L462.58 164.07L463.84 163.87L465.10 163.67L466.36 163.47L467.62 163.27L468.88 163.06L470.14 162.85L471.40 162.64L472.66 162.42L473.92 162.20L475.17 161.98L476.43 161.75L477.69 161.52L478.94 161.29L480.20 161.05L481.46 160.81L482.71 160.57L483.97 160.32L485.22 160.07L486.47 159.81L487.73 159.56L488.98 159.30L490.23 159.03" fill="none" stroke="#ff0000" stroke-width="4.40" stroke-linecap="round" stroke-linejoin="round"/><path d="M171.46 190.74L172.71 190.43L173.95 190.11L175.20 189.80L176.45 189.50L177.69 189.20L178.94 188.90L180.19 188.61L181.44 188.32L182.68 188.03L183.93 187.75L185.18 187.47L186.43 187.20L187.68 186.93L188.93 186.67L190.19 186.41L191.44 186.15L192.69 185.90L193.94 185.65L195.20 185.40L196.45 185.16L197.70 184.92L198.96 184.69L200.21 184.46L201.47 184.23L202.72 184.00L203.98 183.78L205.23 183.57L206.49 183.35L207.75 183.14L209.00 182.94L210.26 182.73L211.52 182.53L212.78 182.34L214.03 182.14L215.29 181.95L216.55 181.77L217.81 181.58L219.07 181.40L220.33 181.23L221.59 181.05L222.85 180.88L224.12 180.71L225.38 180.55L226.64 180.39L227.90 180.23L229.16 180.07L230.43 179.92L231.69 179.77L232.95 179.62L234.22 179.47L235.48 179.33L236.74 179.19L238.01 179.06L239.27 178.92L240.54 178.79L241.80 178.66L243.07 178.53L244.34 178.41L245.60 178.29L246.87 178.17L248.14 178.05L249.40 177.94L250.67 177.83L251.94 177.72L253.20 177.61L254.47 177.51L255.74 177.40L257.01 177.30L258.28 177.20L259.55 177.11L260.82 177.01L262.09 176.92L263.35 176.83L264.62 176.74L265.89 176.66L267.16 176.57L268.44 176.49L269.71 176.41L270.98 176.33L272.25 176.26L273.52 176.18L274.79 176.11L276.06 176.04L277.33 175.97L278.61 175.90L279.88 175.83L281.15 175.77L282.42 175.71L283.70 175.64L284.97 175.58L286.24 175.52L287.51 175.47L288.79 175.41L290.06 175.36L291.33 175.30L292.61 175.25L293.88 175.20L295.16 175.15L296.43 175.10L297.70 175.06L298.98 175.01L300.25 174.97L301.53 174.92L302.80 174.88L304.08 174.84L305.35 174.80L306.63 174.76L307.90 174.72L309.18 174.69L310.45 174.65L311.73 174.61L313.00 174.58L314.28 174.54L315.55 174.51L316.83 174.48L318.11 174.44L319.38 174.41L320.66 174.38L321.93 174.35L323.21 174.32L324.49 174.29L325.76 174.26L327.04 174.24L328.31 174.21L329.59 174.18L330.87 174.15L332.14 174.13L333.42 174.10L334.70 174.07L335.97 174.05L337.25 174.02L338.53 174.00L339.80 173.97L341.08 173.95L342.36 173.92L343.63 173.90L344.91 173.87L346.19 173.85L347.46 173.82L348.74 173.79L350.02 173.77L351.29 173.74L352.57 173.72L353.84 173.69L355.12 173.67L356.40 173.64L357.67 173.61L358.95 173.58L360.23 173.56L361.50 173.53L362.78 173.50L364.06 173.47L365.33 173.44L366.61 173.41L367.88 173.38L369.16 173.35L370.44 173.32L371.71 173.29L372.99 173.25L374.26 173.22L375.54 173.19L376.82 173.15L378.09 173.12L379.37 173.08L380.64 173.04L381.92 173.00L383.19 172.96L384.47 172.92L385.74 172.88L387.02 172.84L388.29 172.79L389.57 172.75L390.84 172.70L392.11 172.66L393.39 172.61L394.66 172.56L395.94 172.51L397.21 172.46L398.48 172.40L399.76 172.35L401.03 172.29L402.31 172.23L403.58 172.17L404.85 172.11L406.12 172.05L407.40 171.99L408.67 171.92L409.94 171.86L411.21 171.79L412.49 171.72L413.76 171.65L415.03 171.57L416.30 171.50L417.57 171.42L418.84 171.34L420.11 171.26L421.38 171.18L422.65 171.10L423.93 171.01L425.20 170.92L426.47 170.83L427.73 170.74L429.00 170.64L430.27 170.55L431.54 170.45L432.81 170.35L434.08 170.24L435.35 170.14L436.62 170.03L437.88 169.92L439.15 169.81L440.42 169.69L441.69 169.58L442.95 169.46L444.22 169.33L445.49 169.21L446.75 169.08L448.02 168.95L449.28 168.82L450.55 168.69L451.81 168.55L453.08 168.41L454.34 168.26L455.61 168.12L456.87 167.97L458.13 167.82L459.40 167.67L460.66 167.51L461.92 167.35L463.18 167.19L464.45 167.02L465.71 166.85L466.97 166.68L468.23 166.50L469.49 166.33L470.75 166.15L472.01 165.96L473.27 165.77L474.53 165.58L475.79 165.39L477.05 165.19L478.31 164.99L479.56 164.79L480.82 164.58L482.08 164.37L483.33 164.16L484.59 163.94L485.85 163.72L487.10 163.49" fill="none" stroke="#8000ff" stroke-width="4.40" stroke-linecap="round" stroke-linejoin="round"/></g><g><path d="M109.00 5.10 H542.90 V354.00 H109.00 Z" fill="none" stroke="#000" stroke-width="1.90" stroke-linejoin="miter"/><line x1="101.3" y1="16.57" x2="109.00" y2="16.57" stroke="#000" stroke-width="1.6"/><line x1="101.3" y1="39.06" x2="109.00" y2="39.06" stroke="#000" stroke-width="1.6"/><line x1="101.3" y1="61.55" x2="109.00" y2="61.55" stroke="#000" stroke-width="1.6"/><line x1="101.3" y1="84.04" x2="109.00" y2="84.04" stroke="#000" stroke-width="1.6"/><line x1="101.3" y1="106.53" x2="109.00" y2="106.53" stroke="#000" stroke-width="1.6"/><line x1="101.3" y1="129.02" x2="109.00" y2="129.02" stroke="#000" stroke-width="1.6"/><line x1="101.3" y1="151.51" x2="109.00" y2="151.51" stroke="#000" stroke-width="1.6"/><line x1="101.3" y1="174.00" x2="109.00" y2="174.00" stroke="#000" stroke-width="1.6"/><line x1="101.3" y1="196.49" x2="109.00" y2="196.49" stroke="#000" stroke-width="1.6"/><line x1="101.3" y1="218.98" x2="109.00" y2="218.98" stroke="#000" stroke-width="1.6"/><line x1="101.3" y1="241.47" x2="109.00" y2="241.47" stroke="#000" stroke-width="1.6"/><line x1="101.3" y1="263.96" x2="109.00" y2="263.96" stroke="#000" stroke-width="1.6"/><line x1="101.3" y1="286.45" x2="109.00" y2="286.45" stroke="#000" stroke-width="1.6"/><line x1="101.3" y1="308.94" x2="109.00" y2="308.94" stroke="#000" stroke-width="1.6"/><line x1="101.3" y1="331.43" x2="109.00" y2="331.43" stroke="#000" stroke-width="1.6"/><line x1="101.3" y1="353.92" x2="109.00" y2="353.92" stroke="#000" stroke-width="1.6"/><line x1="104.8" y1="5.32" x2="109.00" y2="5.32" stroke="#000" stroke-width="1.6"/><line x1="104.8" y1="27.81" x2="109.00" y2="27.81" stroke="#000" stroke-width="1.6"/><line x1="104.8" y1="50.30" x2="109.00" y2="50.30" stroke="#000" stroke-width="1.6"/><line x1="104.8" y1="72.80" x2="109.00" y2="72.80" stroke="#000" stroke-width="1.6"/><line x1="104.8" y1="95.28" x2="109.00" y2="95.28" stroke="#000" stroke-width="1.6"/><line x1="104.8" y1="117.78" x2="109.00" y2="117.78" stroke="#000" stroke-width="1.6"/><line x1="104.8" y1="140.27" x2="109.00" y2="140.27" stroke="#000" stroke-width="1.6"/><line x1="104.8" y1="162.75" x2="109.00" y2="162.75" stroke="#000" stroke-width="1.6"/><line x1="104.8" y1="185.25" x2="109.00" y2="185.25" stroke="#000" stroke-width="1.6"/><line x1="104.8" y1="207.74" x2="109.00" y2="207.74" stroke="#000" stroke-width="1.6"/><line x1="104.8" y1="230.22" x2="109.00" y2="230.22" stroke="#000" stroke-width="1.6"/><line x1="104.8" y1="252.72" x2="109.00" y2="252.72" stroke="#000" stroke-width="1.6"/><line x1="104.8" y1="275.21" x2="109.00" y2="275.21" stroke="#000" stroke-width="1.6"/><line x1="104.8" y1="297.70" x2="109.00" y2="297.70" stroke="#000" stroke-width="1.6"/><line x1="104.8" y1="320.19" x2="109.00" y2="320.19" stroke="#000" stroke-width="1.6"/><line x1="104.8" y1="342.68" x2="109.00" y2="342.68" stroke="#000" stroke-width="1.6"/><line x1="108.90" y1="354.00" x2="108.90" y2="361.6" stroke="#000" stroke-width="1.6"/><line x1="187.90" y1="354.00" x2="187.90" y2="361.6" stroke="#000" stroke-width="1.6"/><line x1="266.90" y1="354.00" x2="266.90" y2="361.6" stroke="#000" stroke-width="1.6"/><line x1="345.90" y1="354.00" x2="345.90" y2="361.6" stroke="#000" stroke-width="1.6"/><line x1="424.90" y1="354.00" x2="424.90" y2="361.6" stroke="#000" stroke-width="1.6"/><line x1="503.90" y1="354.00" x2="503.90" y2="361.6" stroke="#000" stroke-width="1.6"/><line x1="148.40" y1="354.00" x2="148.40" y2="358.0" stroke="#000" stroke-width="1.6"/><line x1="227.40" y1="354.00" x2="227.40" y2="358.0" stroke="#000" stroke-width="1.6"/><line x1="306.40" y1="354.00" x2="306.40" y2="358.0" stroke="#000" stroke-width="1.6"/><line x1="385.40" y1="354.00" x2="385.40" y2="358.0" stroke="#000" stroke-width="1.6"/><line x1="464.40" y1="354.00" x2="464.40" y2="358.0" stroke="#000" stroke-width="1.6"/><line x1="543.40" y1="354.00" x2="543.40" y2="358.0" stroke="#000" stroke-width="1.6"/></g><g font-family="Liberation Sans, sans-serif" fill="#000"><text x="97.5" y="20.67" text-anchor="end" font-size="15.0">0.00035</text><text x="97.5" y="43.16" text-anchor="end" font-size="15.0">0.00030</text><text x="97.5" y="65.65" text-anchor="end" font-size="15.0">0.00025</text><text x="97.5" y="88.14" text-anchor="end" font-size="15.0">0.00020</text><text x="97.5" y="110.63" text-anchor="end" font-size="15.0">0.00015</text><text x="97.5" y="133.12" text-anchor="end" font-size="15.0">0.00010</text><text x="97.5" y="155.61" text-anchor="end" font-size="15.0">0.00005</text><text x="97.5" y="178.10" text-anchor="end" font-size="15.0">0.00000</text><text x="97.5" y="200.59" text-anchor="end" font-size="15.0">-0.00005</text><text x="97.5" y="223.08" text-anchor="end" font-size="15.0">-0.00010</text><text x="97.5" y="245.57" text-anchor="end" font-size="15.0">-0.00015</text><text x="97.5" y="268.06" text-anchor="end" font-size="15.0">-0.00020</text><text x="97.5" y="290.55" text-anchor="end" font-size="15.0">-0.00025</text><text x="97.5" y="313.04" text-anchor="end" font-size="15.0">-0.00030</text><text x="97.5" y="335.53" text-anchor="end" font-size="15.0">-0.00035</text><text x="97.5" y="358.02" text-anchor="end" font-size="15.0">-0.00040</text><text x="108.90" y="377.4" text-anchor="middle" font-size="15.0">-0.4</text><text x="187.90" y="377.4" text-anchor="middle" font-size="15.0">-0.2</text><text x="266.90" y="377.4" text-anchor="middle" font-size="15.0">0.0</text><text x="345.90" y="377.4" text-anchor="middle" font-size="15.0">0.2</text><text x="424.90" y="377.4" text-anchor="middle" font-size="15.0">0.4</text><text x="503.90" y="377.4" text-anchor="middle" font-size="15.0">0.6</text><text x="326" y="411.6" text-anchor="middle" font-size="23.5" font-weight="bold">Potential (V)</text><text transform="translate(24.7,200.9) rotate(-90)" text-anchor="middle" font-size="23.5" font-weight="bold">Current (A)</text><line x1="134.5" y1="37.35" x2="175.5" y2="37.35" stroke="#00ff00" stroke-width="3.9" stroke-linecap="round"/><text x="181.0" y="43.60" font-size="18.3">Initial</text><line x1="134.5" y1="59.80" x2="175.5" y2="59.80" stroke="#ffff00" stroke-width="3.9" stroke-linecap="round"/><text x="181.0" y="66.05" font-size="18.3">AuNPs</text><line x1="134.5" y1="82.25" x2="175.5" y2="82.25" stroke="#ff8000" stroke-width="3.9" stroke-linecap="round"/><text x="181.0" y="88.50" font-size="18.3">Muda</text><line x1="134.5" y1="104.70" x2="175.5" y2="104.70" stroke="#ff0000" stroke-width="3.9" stroke-linecap="round"/><text x="181.0" y="110.95" font-size="18.3">Antibody</text><line x1="134.5" y1="127.15" x2="175.5" y2="127.15" stroke="#8000ff" stroke-width="3.9" stroke-linecap="round"/><text x="181.0" y="133.40" font-size="18.3">N protein</text></g></svg>
</body></html>
